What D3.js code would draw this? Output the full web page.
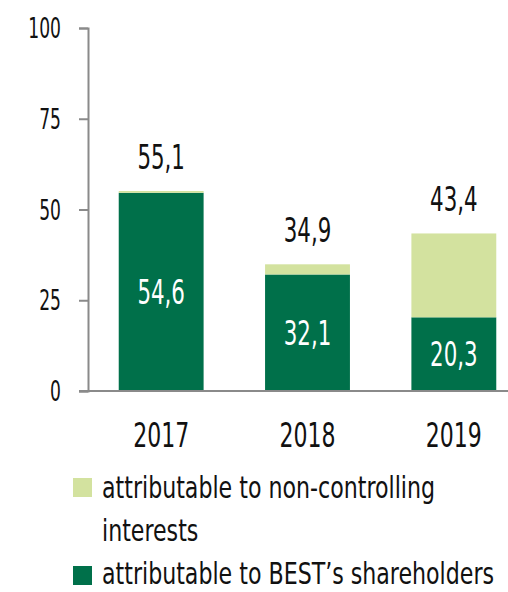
<!DOCTYPE html>
<html lang='en'>
  <head>
    <style type='text/css'>
      body {margin: 0; background-color: #fff;}
      svg text {font-family: "DejaVu Sans Condensed", "Liberation Sans Narrow", sans-serif; fill: #111;}
    </style>
  </head>
  <body>
    <svg id='chart' width='508' height='592'></svg>

    <script src='https://d3js.org/d3.v7.min.js'></script>
    <script type='text/javascript'>
        var years = ["2017", "2018", "2019"];
        var shareholders = [54.6, 32.1, 20.3];
        var nonControlling = [0.5, 2.8, 23.1];
        var totals = [55.1, 34.9, 43.4];
        var yTicks = [0, 25, 50, 75, 100];
        var legendLabels = ["attributable to non-controlling", "interests", "attributable to BEST\u2019s shareholders"];

        var dark = "#00704a", light = "#d3e29f";
        var squeeze = 0.72;  // the original font is a condensed face
        var svg = d3.select("#chart");

        // put a text at (px, py) and narrow it horizontally
        function place(sel, px, py, k) {
          sel.attr("x", 0).attr("y", 0)
             .attr("transform", function(d, i) {
               var a = typeof px === "function" ? px(d, i) : px;
               var b = typeof py === "function" ? py(d, i) : py;
               return "translate(" + a + "," + b + ") scale(" + (k || squeeze) + ",1)";
             });
          return sel;
        }

        var x = d3.scaleBand().domain(years).range([88, 527]).paddingInner(0.42).paddingOuter(0.21);
        var y = d3.scaleLinear().domain([0, 100]).range([391, 28]);

        var data = years.map(function(yr, i) {
          return {year: yr, a: shareholders[i], b: nonControlling[i], total: totals[i]};
        });
        var cx = function(d) { return x(d.year) + x.bandwidth() / 2; };

        // bars
        var g = svg.append("g");
        g.selectAll(".dark").data(data).enter().append("rect")
            .attr("x", function(d) { return x(d.year); })
            .attr("y", function(d) { return y(d.a); })
            .attr("width", x.bandwidth())
            .attr("height", function(d) { return y(0) - y(d.a); })
            .attr("fill", dark);
        g.selectAll(".light").data(data).enter().append("rect")
            .attr("x", function(d) { return x(d.year); })
            .attr("y", function(d) { return y(d.a + d.b); })
            .attr("width", x.bandwidth())
            .attr("height", function(d) { return y(d.a) - y(d.a + d.b); })
            .attr("fill", light);

        // y axis
        var yAxis = svg.append("g")
            .attr("transform", "translate(88,0)")
            .call(d3.axisLeft(y).tickValues(yTicks).tickSize(9).tickPadding(18));
        yAxis.select(".domain").attr("stroke", "#8a8a8a").attr("stroke-width", 2);
        yAxis.selectAll(".tick line").attr("stroke", "#8a8a8a").attr("stroke-width", 2);
        yAxis.selectAll(".tick text")
            .attr("font-size", 28).attr("fill", "#111")
            .attr("font-family", "DejaVu Sans Condensed, sans-serif")
            .attr("dy", "0.34em");
        place(yAxis.selectAll(".tick text"), -27, 0, 0.68);

        // baseline
        svg.append("line")
            .attr("x1", 79).attr("x2", 508)
            .attr("y1", y(0)).attr("y2", y(0))
            .attr("stroke", "#8a8a8a").attr("stroke-width", 2);

        // x labels
        place(svg.selectAll(".xl").data(data).enter().append("text")
            .attr("text-anchor", "middle")
            .attr("font-size", 34)
            .text(function(d) { return d.year; }), cx, 447);

        var fmt = function(v) { return v.toFixed(1).replace(".", ","); };

        // totals above the bars
        place(svg.selectAll(".tot").data(data).enter().append("text")
            .attr("text-anchor", "middle")
            .attr("font-size", 33)
            .text(function(d) { return fmt(d.total); }),
            cx, function(d) { return y(d.total) - 22; });

        // values inside the dark part
        place(svg.selectAll(".in").data(data).enter().append("text")
            .attr("text-anchor", "middle")
            .attr("font-size", 33)
            .style("fill", "#fff")
            .text(function(d) { return fmt(d.a); }),
            cx, function(d) { return (y(0) + y(d.a)) / 2 + 12; });

        // legend
        var legendSquares = [{c: light, y: 478}, {c: dark, y: 566}];
        legendSquares.forEach(function(s) {
          svg.append("rect")
              .attr("x", 73).attr("y", s.y)
              .attr("width", 19).attr("height", 19)
              .attr("fill", s.c);
        });
        var legendBase = [498, 541, 584];
        place(svg.selectAll(".lg").data(legendLabels).enter().append("text")
            .attr("font-size", 30)
            .text(function(d) { return d; }),
            102, function(d, i) { return legendBase[i]; }, 0.82);
    </script>
  </body>
</html>
